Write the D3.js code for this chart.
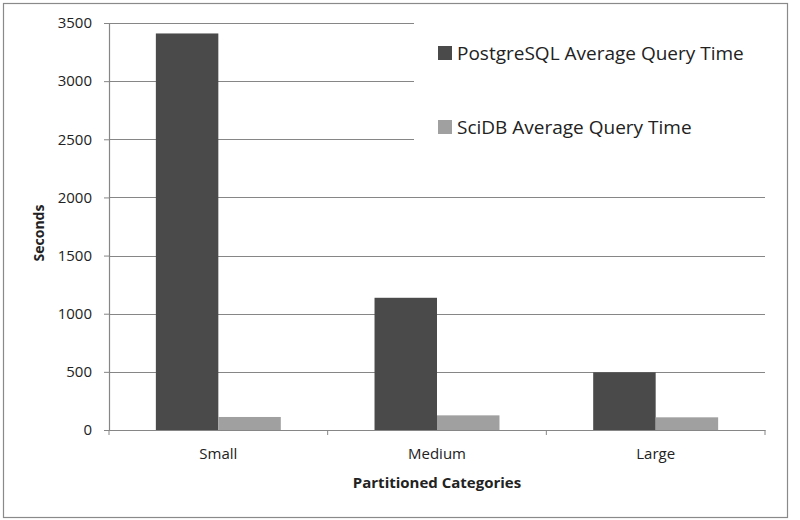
<!DOCTYPE html>
<html>
<head>
<meta charset="utf-8">
<script src="https://cdn.jsdelivr.net/npm/d3@7"></script>
<style>
  body { margin: 0; background: #fff; }
  text { font-family: "Open Sans", sans-serif; fill: #222; }
</style>
</head>
<body>
<div id="chart"></div>
<script>
// data
var categories = ["Small", "Medium", "Large"]
var seriesNames = ["PostgreSQL Average Query Time", "SciDB Average Query Time"]
var postgresTimes = [3410, 1137, 496]
var scidbTimes = [112, 126, 109]
var yTicks = [0, 500, 1000, 1500, 2000, 2500, 3000, 3500]

var data = categories.map(function (c, i) {
    return { category: c, values: [postgresTimes[i], scidbTimes[i]] }
})

var dimensions = {
    width: 656,
    height: 407,
    margin: { top: 23, left: 109 }
}

var svg = d3.select("#chart")
    .append("svg")
    .attr("width", 800)
    .attr("height", 520)

// outer frame
svg.append("rect")
    .attr("x", 3.5).attr("y", 3.5)
    .attr("width", 784).attr("height", 514)
    .attr("fill", "#fff")
    .attr("stroke", "#8a8a8a")
    .attr("stroke-width", 1.2)

var g = svg.append("g")
    .attr("transform", "translate(" + dimensions.margin.left + "," + dimensions.margin.top + ")")

var x = d3.scaleBand()
    .domain(categories)
    .range([0, dimensions.width])
    .padding(0)

var xSub = d3.scaleBand()
    .domain([0, 1])
    .range([0, x.bandwidth()])
    .paddingInner(0)
    .paddingOuter(0.75)

var y = d3.scaleLinear()
    .domain([0, 3500])
    .range([dimensions.height, 0])

var color = d3.scaleOrdinal()
    .domain([0, 1])
    .range(["#4a4a4a", "#a0a0a0"])

// gridlines
g.append("g")
    .selectAll("line")
    .data(yTicks.slice(1))
    .enter().append("line")
    .attr("x1", 0).attr("x2", dimensions.width)
    .attr("y1", function (d) { return Math.round(y(d)) + 0.5 })
    .attr("y2", function (d) { return Math.round(y(d)) + 0.5 })
    .attr("stroke", "#868686")
    .attr("stroke-width", 1.2)

// bars
g.append("g")
    .selectAll("g")
    .data(data)
    .enter().append("g")
    .attr("transform", function (d) { return "translate(" + x(d.category) + ",0)" })
    .selectAll("rect")
    .data(function (d) { return d.values.map(function (v, i) { return { key: i, value: v } }) })
    .enter().append("rect")
    .attr("x", function (d) { return xSub(d.key) })
    .attr("y", function (d) { return y(d.value) })
    .attr("width", xSub.bandwidth())
    .attr("height", function (d) { return dimensions.height - y(d.value) })
    .attr("fill", function (d) { return color(d.key) })

// y axis
var yAxis = g.append("g")
    .call(d3.axisLeft(y).tickValues(yTicks).tickFormat(d3.format("d")).tickSize(5).tickPadding(12))
yAxis.select(".domain").attr("stroke", "#868686").attr("stroke-width", 1.2)
yAxis.selectAll(".tick line").attr("stroke", "#868686")
yAxis.selectAll("text").style("font-size", "15px").attr("fill", "#222")

// x axis
var xAxis = g.append("g")
    .attr("transform", "translate(0," + dimensions.height + ")")
    .call(d3.axisBottom(x).tickSize(0).tickPadding(18))
xAxis.select(".domain").attr("stroke", "#868686").attr("stroke-width", 1.2)
xAxis.selectAll("text").style("font-size", "15px").attr("fill", "#222")

// category separator ticks
xAxis.selectAll(".sep")
    .data([0, 1, 2, 3])
    .enter().append("line")
    .attr("class", "sep")
    .attr("x1", function (d) { return d * x.step() })
    .attr("x2", function (d) { return d * x.step() })
    .attr("y1", 0).attr("y2", 5)
    .attr("stroke", "#868686")

// axis titles
svg.append("text")
    .attr("x", dimensions.margin.left + dimensions.width / 2)
    .attr("y", 488)
    .attr("text-anchor", "middle")
    .style("font-size", "15px")
    .style("font-weight", "bold")
    .text("Partitioned Categories")

svg.append("text")
    .attr("transform", "translate(44,233) rotate(-90)")
    .attr("text-anchor", "middle")
    .style("font-size", "14px")
    .style("font-weight", "bold")
    .text("Seconds")

// legend, white box over the gridlines
var legend = svg.append("g")
legend.append("rect")
    .attr("x", 414).attr("y", 12)
    .attr("width", 370).attr("height", 160)
    .attr("fill", "#fff")

var items = legend.selectAll(".item")
    .data(seriesNames)
    .enter().append("g")
    .attr("class", "item")
    .attr("transform", function (d, i) { return "translate(438," + (53 + i * 74) + ")" })

items.append("rect")
    .attr("x", 0).attr("y", -7)
    .attr("width", 14).attr("height", 14)
    .attr("fill", function (d, i) { return color(i) })

items.append("text")
    .attr("x", 19)
    .attr("dy", "0.35em")
    .style("font-size", "19px")
    .text(function (d) { return d })
</script>
</body>
</html>
